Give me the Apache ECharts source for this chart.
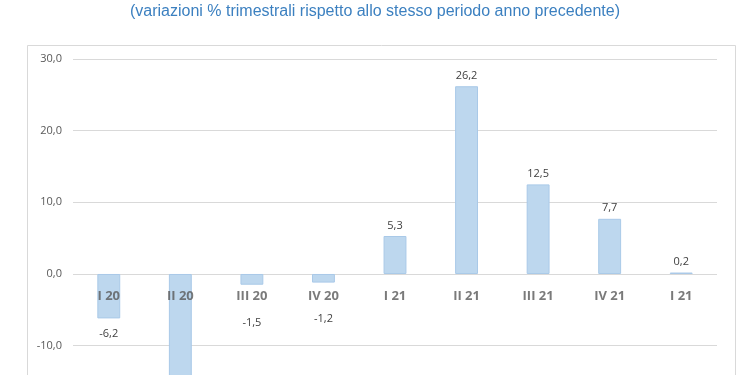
<!DOCTYPE html>
<html><head><meta charset="utf-8">
<script src="https://cdn.jsdelivr.net/npm/echarts@6/dist/echarts.min.js"></script>
<style>html,body{margin:0;padding:0;background:#fff;overflow:hidden}#c{width:750px;height:460px}</style>
</head><body><div id="c"></div>
<script>
const categories = ["I 20","II 20","III 20","IV 20","I 21","II 21","III 21","IV 21","I 21"];
const values = [-6.2,-18.0,-1.5,-1.2,5.3,26.2,12.5,7.7,0.2];
const labelGaps = [10,0,33,31,5,5,5,5,5];
const yTicks = {min:-20,max:30,interval:10};
const titleText = "(variazioni % trimestrali rispetto allo stesso periodo anno precedente)";
const fmt = v => v.toFixed(1).replace('.', ',');
const chart = echarts.init(document.getElementById('c'), null, {renderer:'canvas'});
chart.setOption({
  animation:false,
  backgroundColor:'#fff',
  title:{text:titleText,left:'center',top:-1,textStyle:{fontFamily:'Liberation Sans, Arial',fontSize:16,fontWeight:'normal',color:'#3c80c0'}},
  graphic:[{type:'rect',left:25,top:43,shape:{width:708,height:460},style:{fill:'none',stroke:'#d9d9d9',lineWidth:1},z:-1}],
  grid:{left:73,right:33,top:59,bottom:42.7},
  xAxis:{type:'category',data:categories,axisLine:{show:false},axisTick:{show:false},axisLabel:{show:false}},
  yAxis:{type:'value',min:yTicks.min,max:yTicks.max,interval:yTicks.interval,axisLine:{show:false},axisTick:{show:false},
    splitLine:{lineStyle:{color:'#d9d9d9'}},
    axisLabel:{margin:11,fontFamily:'Open Sans, Liberation Sans',fontSize:11,color:'#595959',formatter:v=>fmt(v)}},
  series:[{type:'bar',barWidth:'32%',
    data:values.map((v,i)=>({value:v,label:{position:v<0?'bottom':'top',distance:labelGaps[i]}})),
    itemStyle:{color:'#bdd7ee',borderColor:'#a9c9e8',borderWidth:1},
    label:{show:true,fontFamily:'Open Sans, Liberation Sans',fontSize:11,color:'#404040',formatter:p=>fmt(p.value)}},
   {type:'scatter',symbolSize:0,z:10,silent:true,
    data:categories.map((c,i)=>[i,0]),
    label:{show:true,position:'bottom',distance:16,fontFamily:'Open Sans, Liberation Sans',fontSize:13,fontWeight:'bold',color:'#595959',
      formatter:p=>categories[p.dataIndex]}}]
});
</script></body></html>
